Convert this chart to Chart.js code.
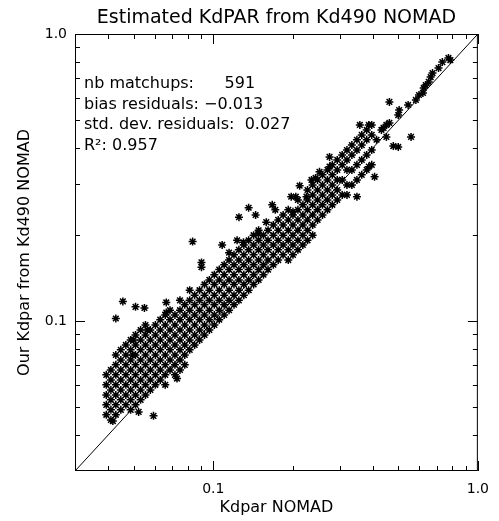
<!DOCTYPE html>
<html>
<head>
<meta charset="utf-8">
<script src="https://cdn.jsdelivr.net/npm/chart.js@4"></script>
<style>
    html, body { margin: 0; padding: 0; background: #fff; }
    canvas { display: block; }
</style>
</head>
<body>
<canvas id="myChart" width="499" height="521"></canvas>
<script>
// 標題與文字
const chartTitle = 'Estimated KdPAR from Kd490 NOMAD';
const xTitle = 'Kdpar NOMAD';
const yTitle = 'Our Kdpar from Kd490 NOMAD';
const statsText = ['nb matchups:      591', 'bias residuals: \u22120.013', 'std. dev. residuals:  0.027', 'R\u00b2: 0.957'];

// 軸範圍與刻度
const axisMin = 0.03;
const axisMax = 1.0;
const axisTicks = [0.04, 0.05, 0.06, 0.07, 0.08, 0.09, 0.1, 0.2, 0.3, 0.4, 0.5, 0.6, 0.7, 0.8, 0.9, 1.0];
const majorTicks = [0.1, 1.0];
const majorTickLabels = ['0.1', '1.0'];

// 1:1 線
const oneToOne = [0.03, 1.0];

// [Kdpar NOMAD, Our Kdpar] 讀圖估計
const lowCluster = [
    [0.0394,0.0649],[0.0394,0.0599],[0.0394,0.0552],[0.0394,0.051],[0.0394,0.0471],
    [0.041,0.0675],[0.041,0.0623],[0.041,0.0575],[0.041,0.0531],[0.041,0.049],[0.041,0.0452],
    [0.0428,0.0761],[0.0428,0.0703],[0.0428,0.0649],[0.0428,0.0599],[0.0428,0.0552],[0.0428,0.051],[0.0428,0.0471],
    [0.0447,0.0793],[0.0447,0.0731],[0.0447,0.0675],[0.0447,0.0623],[0.0447,0.0575],[0.0447,0.0531],[0.0447,0.049],
    [0.0467,0.0825],[0.0467,0.0761],[0.0467,0.0703],[0.0467,0.0649],[0.0467,0.0599],[0.0467,0.0552],[0.0467,0.051],
    [0.0487,0.0859],[0.0487,0.0793],[0.0487,0.0731],[0.0487,0.0675],[0.0487,0.0623],[0.0487,0.0575],[0.0487,0.0531],[0.0487,0.049],
    [0.0508,0.0894],[0.0508,0.0825],[0.0508,0.0761],[0.0508,0.0703],[0.0508,0.0649],[0.0508,0.0599],[0.0508,0.0552],[0.0508,0.051],
    [0.0531,0.093],[0.0531,0.0859],[0.0531,0.0793],[0.0531,0.0731],[0.0531,0.0675],[0.0531,0.0623],[0.0531,0.0575],[0.0531,0.0531],
    [0.0554,0.0968],[0.0554,0.0894],[0.0554,0.0825],[0.0554,0.0761],[0.0554,0.0703],[0.0554,0.0649],[0.0554,0.0599],[0.0554,0.0552],
    [0.0578,0.093],[0.0578,0.0859],[0.0578,0.0793],[0.0578,0.0731],[0.0578,0.0675],[0.0578,0.0623],[0.0578,0.0575],
    [0.0604,0.0968],[0.0604,0.0894],[0.0604,0.0825],[0.0604,0.0761],[0.0604,0.0703],[0.0604,0.0649],[0.0604,0.0599],
    [0.063,0.101],[0.063,0.093],[0.063,0.0859],[0.063,0.0793],[0.063,0.0731],[0.063,0.0675],[0.063,0.0623],
    [0.0658,0.105],[0.0658,0.0968],[0.0658,0.0894],[0.0658,0.0825],[0.0658,0.0761],[0.0658,0.0703],[0.0658,0.0649],[0.0658,0.0599],
    [0.0686,0.109],[0.0686,0.101],[0.0686,0.093],[0.0686,0.0859],[0.0686,0.0793],[0.0686,0.0731],[0.0686,0.0675],
    [0.0716,0.105],[0.0716,0.0968],[0.0716,0.0894],[0.0716,0.0825],[0.0716,0.0761],[0.0716,0.0703],[0.0716,0.0649],
    [0.0748,0.118],[0.0748,0.109],[0.0748,0.101],[0.0748,0.093],[0.0748,0.0859],[0.0748,0.0793],[0.0748,0.0731],[0.0748,0.0675],
    [0.078,0.114],[0.078,0.105],[0.078,0.0968],[0.078,0.0894],[0.078,0.0825],[0.078,0.0761],[0.078,0.0703],
    [0.0814,0.128],[0.0814,0.118],[0.0814,0.109],[0.0814,0.101],[0.0814,0.093],[0.0814,0.0859],[0.0814,0.0793],
    [0.085,0.123],[0.085,0.114],[0.085,0.105],[0.085,0.0968],[0.085,0.0894],[0.085,0.0825],
    [0.0887,0.128],[0.0887,0.118],[0.0887,0.109],[0.0887,0.101],[0.0887,0.093],[0.0887,0.0859],
    [0.0926,0.134],[0.0926,0.123],[0.0926,0.114],[0.0926,0.105],[0.0926,0.0968],[0.0926,0.0894]
];

const midBand = [
    [0.0966,0.139],[0.0966,0.128],[0.0966,0.118],[0.0966,0.109],[0.0966,0.101],[0.0966,0.093],
    [0.1009,0.145],[0.1009,0.134],[0.1009,0.123],[0.1009,0.114],[0.1009,0.105],[0.1009,0.0968],
    [0.1053,0.151],[0.1053,0.139],[0.1053,0.128],[0.1053,0.118],[0.1053,0.109],[0.1053,0.101],
    [0.1099,0.157],[0.1099,0.145],[0.1099,0.134],[0.1099,0.123],[0.1099,0.114],[0.1099,0.105],
    [0.1147,0.163],[0.1147,0.151],[0.1147,0.139],[0.1147,0.128],[0.1147,0.118],[0.1147,0.109],
    [0.1197,0.17],[0.1197,0.157],[0.1197,0.145],[0.1197,0.134],[0.1197,0.123],[0.1197,0.114],
    [0.1249,0.177],[0.1249,0.163],[0.1249,0.151],[0.1249,0.139],[0.1249,0.128],[0.1249,0.118],
    [0.1304,0.184],[0.1304,0.17],[0.1304,0.157],[0.1304,0.145],[0.1304,0.134],[0.1304,0.123],
    [0.136,0.191],[0.136,0.177],[0.136,0.163],[0.136,0.151],[0.136,0.139],[0.136,0.128],
    [0.142,0.199],[0.142,0.184],[0.142,0.17],[0.142,0.157],[0.142,0.145],[0.142,0.134],
    [0.1483,0.207],[0.1483,0.191],[0.1483,0.177],[0.1483,0.163],[0.1483,0.151],[0.1483,0.139],
    [0.1547,0.199],[0.1547,0.184],[0.1547,0.17],[0.1547,0.157],[0.1547,0.145],
    [0.161,0.207],[0.161,0.191],[0.161,0.177],[0.161,0.163],[0.161,0.151],
    [0.1686,0.216],[0.1686,0.199],[0.1686,0.184],[0.1686,0.17],[0.1686,0.157],
    [0.1759,0.225],[0.1759,0.207],[0.1759,0.191],[0.1759,0.177],[0.1759,0.163],
    [0.1836,0.234],[0.1836,0.216],[0.1836,0.199],[0.1836,0.184],[0.1836,0.17],
    [0.192,0.244],[0.192,0.225],[0.192,0.207],[0.192,0.191],[0.192,0.177],[0.192,0.163],
    [0.2,0.234],[0.2,0.216],[0.2,0.199],[0.2,0.184],[0.2,0.17],
    [0.2088,0.264],[0.2088,0.244],[0.2088,0.225],[0.2088,0.207],[0.2088,0.191],[0.2088,0.177],
    [0.218,0.254],[0.218,0.234],[0.218,0.216],[0.218,0.199],[0.218,0.184],
    [0.227,0.286],[0.227,0.264],[0.227,0.244],[0.227,0.225],[0.227,0.207],[0.227,0.191],
    [0.2374,0.298],[0.2374,0.275],[0.2374,0.254],[0.2374,0.234],[0.2374,0.216],[0.2374,0.199],
    [0.2477,0.31],[0.2477,0.286],[0.2477,0.264],[0.2477,0.244],[0.2477,0.225],
    [0.2586,0.323],[0.2586,0.298],[0.2586,0.275],[0.2586,0.254],[0.2586,0.234],
    [0.27,0.336],[0.27,0.31],[0.27,0.286],[0.27,0.264],[0.27,0.244],
    [0.2817,0.35],[0.2817,0.323],[0.2817,0.298],[0.2817,0.275],[0.2817,0.254],
    [0.294,0.364],[0.294,0.336],[0.294,0.31],[0.294,0.286],[0.294,0.264]
];

const highBand = [
    [0.307,0.379],[0.307,0.35],[0.307,0.31],[0.307,0.275],
    [0.32,0.394],[0.32,0.364],[0.32,0.336],[0.32,0.298],[0.32,0.275],
    [0.334,0.41],[0.334,0.379],[0.334,0.336],[0.334,0.298],
    [0.349,0.428],[0.349,0.394],[0.349,0.35],[0.349,0.31],
    [0.364,0.445],[0.364,0.41],[0.364,0.364],[0.364,0.323],
    [0.38,0.463],[0.38,0.428],[0.38,0.379],[0.38,0.336],
    [0.397,0.482],[0.397,0.445],[0.397,0.394],[0.397,0.35],
    [0.414,0.428],[0.432,0.463],[0.44,0.471],[0.451,0.482],[0.451,0.438],[0.463,0.49],
    [0.479,0.407],[0.5,0.404],[0.5,0.522],[0.504,0.543],[0.545,0.566],
    [0.583,0.589],[0.599,0.613],[0.62,0.623],[0.624,0.648],[0.635,0.664],[0.652,0.681],
    [0.663,0.708],[0.674,0.731],[0.71,0.761],[0.734,0.798],[0.774,0.825],[0.787,0.811]
];

const outliers = [
    [0.0455,0.117],[0.0428,0.102],[0.0508,0.112],[0.0549,0.111],[0.0664,0.116],[0.0664,0.107],
    [0.0563,0.093],[0.05,0.0859],[0.0495,0.0761],[0.0522,0.0482],[0.0594,0.0467],[0.0729,0.063],[0.0417,0.0448],
    [0.0835,0.189],[0.0902,0.16],[0.0902,0.154],[0.108,0.184],[0.1147,0.173],[0.123,0.191],[0.13,0.188],
    [0.125,0.23],[0.136,0.248],[0.1445,0.234],[0.1585,0.221],[0.148,0.201],[0.167,0.254],[0.1715,0.244],[0.2,0.24],
    [0.197,0.271],[0.205,0.271],[0.225,0.271],[0.212,0.296],[0.235,0.31],[0.2436,0.315],[0.252,0.331],
    [0.275,0.373],[0.275,0.345],[0.349,0.271],[0.387,0.345],[0.407,0.318],[0.358,0.482],[0.387,0.482],
    [0.463,0.58],[0.559,0.438]
];

const matchups = lowCluster.concat(midBand, highBand, outliers);

const ctx = document.getElementById('myChart');

Chart.defaults.font.family = '"DejaVu Sans", sans-serif';
Chart.defaults.color = '#000';

function tickLabel(value) {
    const i = majorTicks.indexOf(value);
    return i >= 0 ? majorTickLabels[i] : '';
}

function setTicks(scale) {
    scale.ticks = axisTicks.map((v) => ({value: v, major: majorTicks.includes(v)}));
}

// 外框、向內刻度、標題與統計文字
const decorations = {
    id: 'decorations',
    afterDraw(chart) {
        const {ctx, chartArea: area, scales} = chart;
        ctx.save();
        ctx.strokeStyle = '#000';
        ctx.lineWidth = 1;
        ctx.strokeRect(area.left + 0.5, area.top + 0.5, area.width - 1, area.height - 1);
        ctx.beginPath();
        scales.x.ticks.forEach((t) => {
            const len = majorTicks.includes(t.value) ? 10 : 5;
            const px = Math.round(scales.x.getPixelForValue(t.value)) + 0.5;
            ctx.moveTo(px, area.bottom);
            ctx.lineTo(px, area.bottom - len);
            ctx.moveTo(px, area.top);
            ctx.lineTo(px, area.top + len);
        });
        scales.y.ticks.forEach((t) => {
            const len = majorTicks.includes(t.value) ? 10 : 5;
            const py = Math.round(scales.y.getPixelForValue(t.value)) + 0.5;
            ctx.moveTo(area.left, py);
            ctx.lineTo(area.left + len, py);
            ctx.moveTo(area.right, py);
            ctx.lineTo(area.right - len, py);
        });
        ctx.stroke();

        ctx.fillStyle = '#000';
        ctx.textBaseline = 'middle';
        ctx.textAlign = 'center';
        ctx.font = '19px "DejaVu Sans"';
        ctx.fillText(chartTitle, (area.left + area.right) / 2, 18);

        ctx.textAlign = 'left';
        ctx.font = '16px "DejaVu Sans"';
        statsText.forEach((s, i) => {
            ctx.fillText(s, area.left + 9, area.top + 50 + i * 20.5);
        });
        ctx.restore();
    }
};

const chartConfig = {
    type: 'scatter',
    data: {
        datasets: [{
            label: '1:1',
            data: oneToOne.map((v) => ({x: v, y: v})),
            showLine: true,
            borderColor: '#000',
            borderWidth: 1,
            pointRadius: 0,
            pointHoverRadius: 0
        }, {
            label: 'matchups',
            data: matchups.map((p) => ({x: p[0], y: p[1]})),
            pointStyle: 'star',
            pointRadius: 4,
            pointHoverRadius: 4,
            borderColor: '#000',
            backgroundColor: '#000',
            borderWidth: 1.5
        }]
    },
    options: {
        responsive: false,
        animation: false,
        devicePixelRatio: 1,
        events: [],
        layout: { padding: { top: 34, right: 16, left: 0, bottom: 0 } },
        plugins: {
            legend: { display: false },
            tooltip: { enabled: false },
            title: { display: false }
        },
        scales: {
            x: {
                type: 'logarithmic',
                position: 'bottom',
                min: axisMin,
                max: axisMax,
                afterBuildTicks: setTicks,
                afterFit: (scale) => { scale.height = 50; },
                grid: { display: false, drawTicks: false },
                border: { display: false },
                ticks: { autoSkip: false, maxRotation: 0, padding: 10, font: { size: 14 }, callback: tickLabel },
                title: { display: true, text: xTitle, font: { size: 16 }, padding: { top: 0, bottom: 4 } }
            },
            y: {
                type: 'logarithmic',
                position: 'left',
                min: axisMin,
                max: axisMax,
                afterBuildTicks: setTicks,
                afterFit: (scale) => { scale.width = 75; },
                grid: { display: false, drawTicks: false },
                border: { display: false },
                ticks: { autoSkip: false, padding: 8, font: { size: 14 }, callback: tickLabel },
                title: { display: true, text: yTitle, font: { size: 16 }, padding: { top: 15, bottom: 0 } }
            }
        }
    },
    plugins: [decorations]
};

new Chart(ctx, chartConfig);
</script>
</body>
</html>
